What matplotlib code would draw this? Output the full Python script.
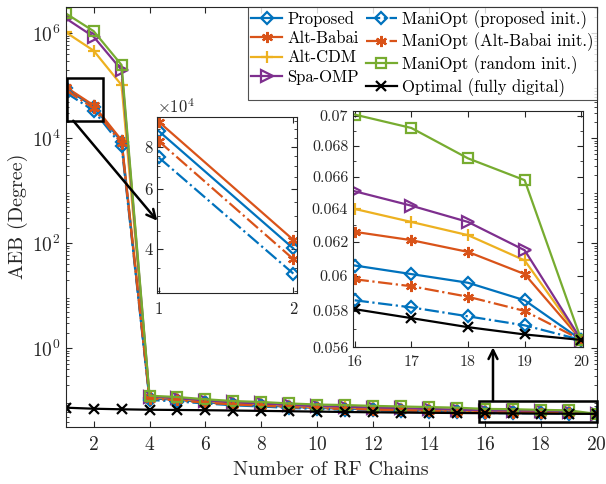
import numpy as np
import matplotlib
matplotlib.use("Agg")
import matplotlib.pyplot as plt
from matplotlib.ticker import FixedLocator, NullFormatter, LogLocator
from matplotlib.patches import Rectangle

plt.rcParams['font.family'] = ['cmr10', 'DejaVu Serif']
plt.rcParams['mathtext.fontset'] = 'cm'
plt.rcParams['axes.formatter.use_mathtext'] = True

chains = np.arange(1, 21)

proposed = [8.90e4, 4.01e4, 8.6e3, 0.112, 0.104, 0.094, 0.086, 0.082, 0.077, 0.073, 0.071,
            0.069, 0.067, 0.065, 0.063, 0.0606, 0.0601, 0.0596, 0.0586, 0.0564]
alt_babai = [9.48e4, 4.25e4, 9.2e3, 0.116, 0.108, 0.097, 0.089, 0.085, 0.079, 0.075, 0.073,
             0.071, 0.069, 0.067, 0.065, 0.0626, 0.0621, 0.0614, 0.0601, 0.0564]
alt_cdm = [1.05e6, 4.67e5, 1.03e5, 0.118, 0.110, 0.099, 0.091, 0.087, 0.081, 0.077, 0.075,
           0.073, 0.071, 0.069, 0.067, 0.0640, 0.0632, 0.0624, 0.0609, 0.0564]
spa_omp = [1.93e6, 8.6e5, 2.0e5, 0.120, 0.112, 0.101, 0.093, 0.089, 0.083, 0.079, 0.077,
           0.074, 0.072, 0.070, 0.068, 0.0651, 0.0642, 0.0632, 0.0615, 0.0564]
mani_prop = [7.44e4, 3.38e4, 7.2e3, 0.104, 0.097, 0.089, 0.082, 0.078, 0.073, 0.070, 0.068,
             0.066, 0.064, 0.062, 0.061, 0.0586, 0.0582, 0.0577, 0.0572, 0.0564]
mani_ab = [8.31e4, 3.73e4, 8.0e3, 0.110, 0.102, 0.092, 0.085, 0.081, 0.076, 0.072, 0.070,
           0.068, 0.066, 0.064, 0.062, 0.0598, 0.0594, 0.0588, 0.0580, 0.0564]
mani_rand = [2.4e6, 1.1e6, 2.49e5, 0.125, 0.118, 0.107, 0.099, 0.095, 0.089, 0.085, 0.083,
             0.080, 0.078, 0.076, 0.074, 0.0701, 0.0692, 0.0672, 0.0658, 0.0564]
optimal = [0.0740, 0.0707, 0.0689, 0.0676, 0.0669, 0.0662, 0.0653, 0.0643, 0.0633, 0.0623,
           0.0613, 0.0604, 0.0597, 0.0591, 0.0586, 0.0581, 0.0576, 0.0571, 0.0567, 0.0564]

C_BLUE = '#0072BD'
C_ORANGE = '#D95319'
C_YELLOW = '#EDB120'
C_PURPLE = '#7E2F8E'
C_GREEN = '#77AC30'
C_BLACK = 'black'
AX_COLOR = '#262626'

series = [
    ('Proposed', proposed, C_BLUE, 'D', '-', 'none'),
    ('Alt-Babai', alt_babai, C_ORANGE, (6, 2, 0), '-', C_ORANGE),
    ('Alt-CDM', alt_cdm, C_YELLOW, '+', '-', C_YELLOW),
    ('Spa-OMP', spa_omp, C_PURPLE, '>', '-', 'none'),
    ('ManiOpt (proposed init.)', mani_prop, C_BLUE, 'D', '-.', 'none'),
    ('ManiOpt (Alt-Babai init.)', mani_ab, C_ORANGE, (6, 2, 0), '-.', C_ORANGE),
    ('ManiOpt (random init.)', mani_rand, C_GREEN, 's', '-', 'none'),
    ('Optimal (fully digital)', optimal, C_BLACK, 'x', '-', C_BLACK),
]

msize = {'D': 6.5, '+': 9, '>': 9, 's': 7, 'x': 7}


def draw(ax, xs, lw=1.6):
    handles = []
    for name, vals, col, mk, ls, mfc in series:
        ms = msize.get(mk, 8) if not isinstance(mk, tuple) else 8
        h, = ax.plot(xs, np.asarray(vals)[xs - 1], color=col, ls=ls, lw=lw, marker=mk,
                     markersize=ms, markerfacecolor=mfc, markeredgecolor=col,
                     markeredgewidth=1.6, label=name)
        handles.append(h)
    return handles


def style(ax, fs):
    for sp in ax.spines.values():
        sp.set_color(AX_COLOR)
        sp.set_linewidth(0.8)
    ax.tick_params(which='both', direction='in', top=True, right=True,
                   colors=AX_COLOR, labelcolor=AX_COLOR, labelsize=fs)
    ax.tick_params(which='major', length=4)
    ax.tick_params(which='minor', length=2)


fig = plt.figure(figsize=(6.06, 4.84), dpi=100)
ax = fig.add_axes([0.1084, 0.1184, 0.8762, 0.8678])
handles = draw(ax, chains)
ax.set_yscale('log')
ax.set_xlim(1, 20)
ax.set_ylim(10 ** -1.493, 10 ** 6.507)
ax.set_xticks(np.arange(2, 21, 2))
ax.yaxis.set_major_locator(FixedLocator([1, 1e2, 1e4, 1e6]))
ax.yaxis.set_minor_locator(LogLocator(base=10, subs=np.arange(2, 10), numticks=20))
ax.yaxis.set_minor_formatter(NullFormatter())
style(ax, 14)
ax.tick_params(axis='x', which='major', pad=7)
ax.set_xlabel('Number of RF Chains', fontsize=14.5, color=AX_COLOR, labelpad=5)
ax.set_ylabel('AEB (Degree)', fontsize=14.5, color=AX_COLOR, labelpad=3)

leg = ax.legend(handles=handles, ncol=2, loc='upper right', fontsize=12,
                frameon=True, fancybox=False, edgecolor=AX_COLOR,
                borderaxespad=0.0, handlelength=1.85, handletextpad=0.3,
                columnspacing=0.45, labelspacing=0.24, borderpad=0.2)
leg.get_frame().set_linewidth(0.8)

# zoom rectangles in main axes
ax.add_patch(Rectangle((1.036, 2.16e4), 2.32 - 1.036, 1.39e5 - 2.16e4, fill=False,
                       ec='black', lw=1.8, zorder=5))
ax.add_patch(Rectangle((15.79, 0.040), 20.02 - 15.79, 0.099 - 0.040, fill=False,
                       ec='black', lw=1.8, zorder=5, clip_on=False))

# left inset
ax1 = fig.add_axes([0.2596, 0.3953, 0.2300, 0.3624])
draw(ax1, np.array([1, 2]))
ax1.set_yscale('log')
ax1.set_xlim(0.99, 2.025)
ax1.set_ylim(2.97e4, 9.77e4)
ax1.xaxis.set_major_locator(FixedLocator([1, 2]))
ax1.xaxis.set_minor_locator(FixedLocator([]))
ax1.yaxis.set_major_locator(FixedLocator([4e4, 6e4, 8e4]))
ax1.yaxis.set_minor_locator(FixedLocator(np.arange(3.0e4, 9.8e4, 5e3)))
ax1.yaxis.set_minor_formatter(NullFormatter())
ax1.set_yticklabels(['4', '6', '8'])
style(ax1, 12)
ax1.tick_params(axis='x', which='major', pad=6)
ax1.text(0.0, 1.01, r'$\times10^4$', transform=ax1.transAxes, fontsize=12,
         color=AX_COLOR, ha='left', va='bottom')

# right inset
ax2 = fig.add_axes([0.5825, 0.2824, 0.3795, 0.4882])
draw(ax2, np.arange(16, 21))
ax2.set_yscale('log')
ax2.set_xlim(15.97, 20.03)
ax2.set_ylim(0.056, 0.07034)
ax2.xaxis.set_major_locator(FixedLocator([16, 17, 18, 19, 20]))
ax2.xaxis.set_minor_locator(FixedLocator([]))
ax2.yaxis.set_major_locator(FixedLocator([0.056, 0.058, 0.060, 0.062, 0.064, 0.066, 0.068, 0.070]))
ax2.yaxis.set_minor_locator(FixedLocator(np.arange(0.057, 0.0705, 0.002)))
ax2.yaxis.set_minor_formatter(NullFormatter())
ax2.set_yticklabels(['0.056', '0.058', '0.06', '0.062', '0.064', '0.066', '0.068', '0.07'])
style(ax2, 11.5)
ax2.tick_params(axis='x', which='major', pad=5)

# arrows
ax.annotate('', xy=(0.0, 0.41), xycoords=ax1.transAxes,
            xytext=(1.27, 2.16e4), textcoords='data',
            arrowprops=dict(arrowstyle='->', color='black', lw=1.8,
                            mutation_scale=16, shrinkA=0, shrinkB=0), zorder=6)
ax.annotate('', xy=(16.29, 0.0), xycoords=('data', ax2.transAxes),
            xytext=(16.29, 0.099), textcoords='data',
            arrowprops=dict(arrowstyle='->', color='black', lw=1.8,
                            mutation_scale=16, shrinkA=0, shrinkB=0), zorder=6)

fig.savefig('out.png', dpi=100)
